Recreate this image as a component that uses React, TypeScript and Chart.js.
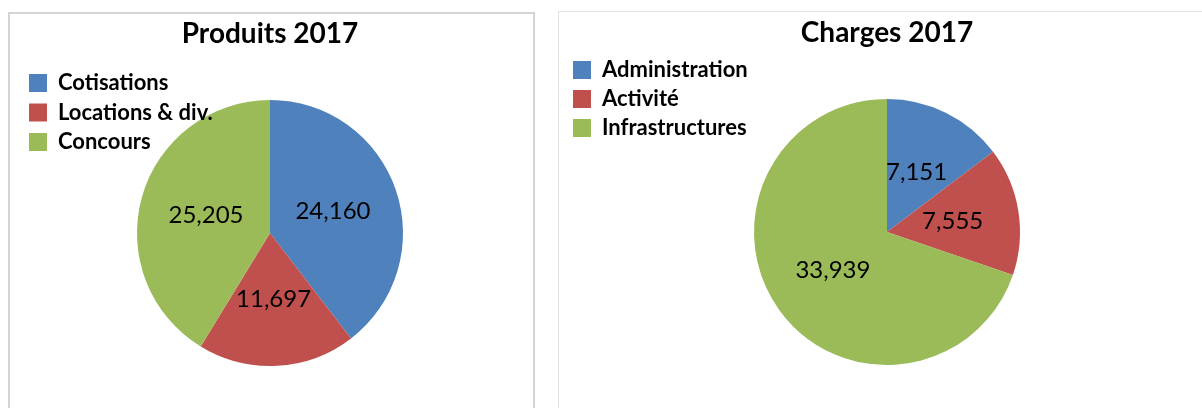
import React, { useEffect, useRef } from "react";
import { Chart, registerables } from "chart.js";

Chart.register(...registerables);

const produitsTitle = "Produits 2017";
const produitsLabels = ["Cotisations", "Locations & div.", "Concours"];
const produitsValues = [24160, 11697, 25205];

const chargesTitle = "Charges 2017";
const chargesLabels = ["Administration", "Activité", "Infrastructures"];
const chargesValues = [7151, 7555, 33939];

const sliceColors = ["#4F81BD", "#C0504D", "#9BBB59"];

const FONT = "Lato, 'Open Sans', sans-serif";

const valueLabels = {
  id: "valueLabels",
  afterDatasetsDraw(chart: any) {
    const ctx = chart.ctx;
    const meta = chart.getDatasetMeta(0);
    const data = chart.data.datasets[0].data;
    ctx.save();
    ctx.font = `24px ${FONT}`;
    ctx.fillStyle = "#000";
    ctx.textAlign = "center";
    ctx.textBaseline = "middle";
    meta.data.forEach((arc: any, i: number) => {
      const p = arc.tooltipPosition(false);
      ctx.fillText(Number(data[i]).toLocaleString("en-US"), p.x, p.y);
    });
    ctx.restore();
  },
};

const legendPlacer = {
  id: "legendPlacer",
  beforeLayout(chart: any) {
    const lg = chart.legend;
    if (lg && !lg.__onTop) {
      lg.__onTop = true;
      lg._layers = () => [{ z: 10, draw: (ca: any) => lg.draw(ca) }];
    }
  },
  afterLayout(chart: any, _args: any, opts: any) {
    const lg = chart.legend;
    if (!lg) return;
    const w = lg.width;
    const h = lg.height;
    lg.left = opts.x;
    lg.top = opts.y;
    lg.right = opts.x + w;
    lg.bottom = opts.y + h;
  },
};

type PieProps = {
  title: string;
  labels: string[];
  values: number[];
  left: number;
  width: number;
  padding: { left: number; right: number; top: number; bottom: number };
  titlePad: { top: number; bottom: number };
  legendPos: { x: number; y: number };
  legendSpacing: number;
};

function PieChart(props: PieProps) {
  const ref = useRef<HTMLCanvasElement | null>(null);
  useEffect(() => {
    if (!ref.current) return;
    const chart = new Chart(ref.current, {
      type: "pie",
      data: {
        labels: props.labels,
        datasets: [
          {
            data: props.values,
            backgroundColor: sliceColors,
            borderWidth: 0,
            hoverOffset: 0,
            offset: 0,
          },
        ],
      },
      plugins: [valueLabels, legendPlacer],
      options: {
        animation: false,
        responsive: true,
        maintainAspectRatio: false,
        rotation: 0,
        layout: { padding: props.padding },
        events: [],
        plugins: {
          title: {
            display: true,
            text: props.title,
            color: "#000",
            font: { family: FONT, size: 28, weight: "bold", lineHeight: 1.2 },
            padding: props.titlePad,
          },
          legend: {
            display: true,
            position: "chartArea" as any,
            align: "start",
            labels: {
              color: "#000",
              boxWidth: 18,
              boxHeight: 18,
              padding: props.legendSpacing,
              font: { family: FONT, size: 22, weight: "bold" },
            },
          },
          tooltip: { enabled: false },
          legendPlacer: props.legendPos,
        } as any,
      },
    });
    return () => chart.destroy();
  }, []);
  return (
    <div
      style={{
        position: "absolute",
        left: props.left,
        top: 0,
        width: props.width,
        height: 408,
      }}
    >
      <canvas ref={ref} />
    </div>
  );
}

export default function App() {
  return (
    <div
      style={{
        position: "absolute",
        left: 0,
        top: 0,
        width: 1202,
        height: 408,
        overflow: "hidden",
        background: "#fff",
      }}
    >
      <PieChart
        title={produitsTitle}
        labels={produitsLabels}
        values={produitsValues}
        left={0}
        width={545}
        padding={{ left: 8, right: 13, top: 0, bottom: 42 }}
        titlePad={{ top: 16.7, bottom: 49.7 }}
        legendPos={{ x: 21.5, y: 64.5 }}
        legendSpacing={7.5}
      />
      <PieChart
        title={chargesTitle}
        labels={chargesLabels}
        values={chargesValues}
        left={545}
        width={657}
        padding={{ left: 76, right: 49, top: 0, bottom: 43 }}
        titlePad={{ top: 15.9, bottom: 49.5 }}
        legendPos={{ x: 21, y: 52 }}
        legendSpacing={7}
      />
      <div
        style={{
          position: "absolute",
          left: 8,
          top: 12,
          width: 523,
          height: 500,
          border: "2px solid #d4d4d4",
          pointerEvents: "none",
        }}
      />
      <div
        style={{
          position: "absolute",
          left: 558,
          top: 11,
          width: 800,
          height: 500,
          border: "1px solid #e2e2e2",
          pointerEvents: "none",
        }}
      />
    </div>
  );
}
